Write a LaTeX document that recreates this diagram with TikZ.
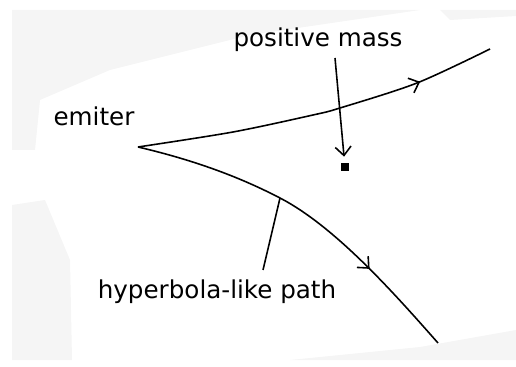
\documentclass[tikz,border=0pt]{standalone}
\usepackage{fontspec}
\setmainfont{DejaVu Sans}
\usetikzlibrary{arrows.meta,decorations.markings}
\tikzset{
  traj/.style={line width=0.9pt},
  barb/.style={-{Straight Barb[length=5pt,width=9pt]}},
  midarrow/.style={postaction={decorate},
    decoration={markings,mark=at position #1 with {\arrow{Straight Barb[length=5pt,width=9pt]}}}},
  lbl/.style={font=\fontsize{14}{16}\selectfont,inner sep=0pt,anchor=base},
  paper/.style={fill=black!4,draw=none},
}
\begin{document}
\begin{tikzpicture}[x=0.02cm,y=-0.02cm]
  \useasboundingbox (0,0) rectangle (516,367);
  % paper texture
  \fill[paper] (12,10) -- (420,10) -- (250,35) -- (110,70) -- (40,100) -- (35,150) -- (12,150) -- cycle;
  \fill[paper] (440,10) -- (516,10) -- (516,16) -- (450,20) -- cycle;
  \fill[paper] (12,205) -- (45,200) -- (70,260) -- (72,360) -- (12,360) -- cycle;
  \fill[paper] (290,360) -- (420,347) -- (516,330) -- (516,360) -- cycle;
  % labels
  \node[lbl] (pos) at (318,47) {positive mass};
  \node[lbl] (emt) at (94,126) {emiter};
  \node[lbl] (hyp) at (217,298) {hyperbola-like path};
  % emitter and mass
  \coordinate (emit) at (138,147);
  \coordinate (upend) at (490,49);
  \coordinate (lowend) at (438,343);
  \node[fill,inner sep=0pt,minimum size=0.16cm] (mass) at (345,167) {};
  \coordinate (mtop) at (335,58);
  \coordinate (foot) at (280,198);
  \coordinate (lead) at (263,270);
  % trajectories
  \draw[traj,midarrow=0.79] plot[smooth] coordinates
    {(emit) (233,132) (313,115) (340,108) (417,83) (upend)};
  \draw[traj,midarrow=0.725] (emit) .. controls (185,158) and (233,173.5) .. (foot)
    .. controls (335,226.6) and (393,292) .. (lowend);
  % pointers
  \draw[traj,barb,shorten >=0.12cm] (mtop) -- (mass);
  \draw[traj] (lead) -- (foot);
\end{tikzpicture}
\end{document}
